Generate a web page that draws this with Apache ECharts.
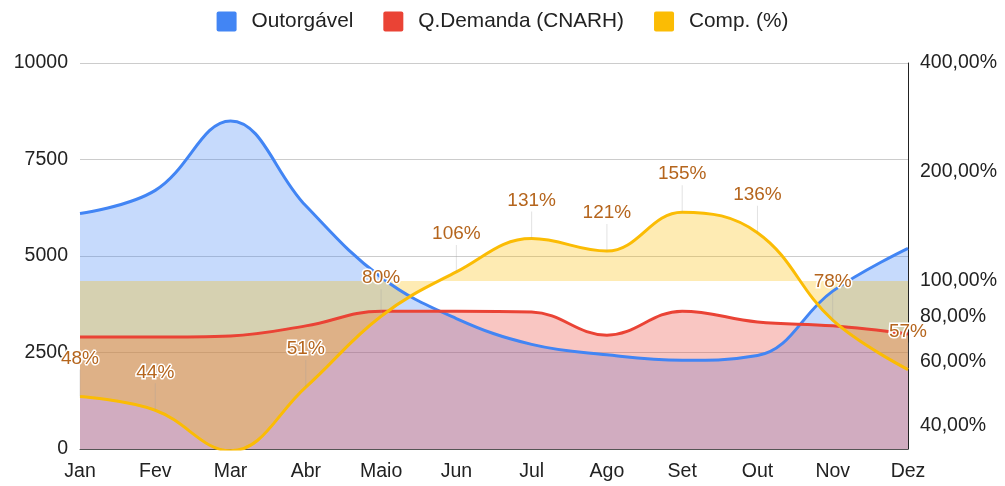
<!DOCTYPE html>
<html>
<head>
<meta charset="utf-8">
<script src="https://cdn.jsdelivr.net/npm/echarts@6/dist/echarts.min.js"></script>
<style>
html, body { margin: 0; padding: 0; background: #fff; }
#chart { width: 1005px; height: 486px; }
</style>
</head>
<body>
<div id="chart"></div>
<script>
const meses = ['Jan', 'Fev', 'Mar', 'Abr', 'Maio', 'Jun', 'Jul', 'Ago', 'Set', 'Out', 'Nov', 'Dez'];
const outorgavel = [6100, 6700, 8500, 6300, 4450, 3380, 2710, 2440, 2300, 2420, 4090, 5200];
const demanda = [2900, 2900, 2930, 3190, 3570, 3570, 3550, 2950, 3570, 3290, 3190, 2980];
const comp = [0.48, 0.44, 0.34, 0.51, 0.80, 1.06, 1.31, 1.21, 1.55, 1.36, 0.78, 0.57];
const ticksDireita = [0.4, 0.6, 0.8, 1, 2, 4];

const fonte = '"Liberation Sans", Arial, sans-serif';
// quadrado com cantos levemente arredondados (legenda)
const iconeQuadrado = 'path://M2,0H18A2,2,0,0,1,20,2V18A2,2,0,0,1,18,20H2A2,2,0,0,1,0,18V2A2,2,0,0,1,2,0Z';
var myChart = echarts.init(document.getElementById('chart'));
let option = {
	animation: false,
	textStyle: { fontFamily: fonte },
	legend: {
		top: 6,
		left: 'center',
		icon: iconeQuadrado,
		itemWidth: 20,
		itemHeight: 20,
		itemGap: 30,
		textStyle: { fontSize: 20.8, color: '#222', fontFamily: fonte, padding: [0, 0, 0, 10] },
		data: ['Outorgável', 'Q.Demanda (CNARH)', 'Comp. (%)']
	},
	grid: {
		left: 80,
		right: 97,
		top: 63,
		bottom: 37
	},
	xAxis: {
		type: 'category',
		data: meses,
		boundaryGap: false,
		axisLine: { show: true, lineStyle: { color: '#555', width: 1 } },
		axisTick: { show: false },
		axisLabel: { fontSize: 19.5, color: '#222', margin: 13 }
	},
	yAxis: [
		{
			type: 'value',
			min: 0,
			max: 10000,
			interval: 2500,
			axisLine: { show: false },
			axisTick: { show: false },
			axisLabel: {
				fontSize: 19.5,
				color: '#222',
				margin: 12,
				formatter: function (v) { return String(v); }
			},
			splitLine: { lineStyle: { color: '#ccc' } }
		},
		{
			type: 'log',
			logBase: 10,
			min: 0.344,
			max: 4,
			position: 'right',
			axisLine: { show: true, lineStyle: { color: '#222', width: 1 } },
			axisTick: { show: false },
			splitLine: { show: false },
			axisLabel: {
				fontSize: 19.5,
				color: '#222',
				margin: 12,
				customValues: ticksDireita,
				formatter: function (v) {
					return (v * 100).toFixed(2).replace('.', ',') + '%';
				}
			}
		}
	],
	series: [
		{
			name: 'Outorgável',
			type: 'line',
			smooth: 0.4,
			symbol: 'none',
			data: outorgavel,
			itemStyle: { color: '#4285F4' },
			lineStyle: { width: 3, color: '#4285F4' },
			areaStyle: { color: '#4285F4', opacity: 0.3 }
		},
		{
			name: 'Q.Demanda (CNARH)',
			type: 'line',
			smooth: 0.4,
			symbol: 'none',
			data: demanda,
			itemStyle: { color: '#EA4335' },
			lineStyle: { width: 3, color: '#EA4335' },
			areaStyle: { color: '#EA4335', opacity: 0.3 }
		},
		{
			name: 'Comp. (%)',
			type: 'line',
			yAxisIndex: 1,
			smooth: 0.4,
			symbol: 'circle',
			symbolSize: 0,
			showSymbol: true,
			data: comp,
			itemStyle: { color: '#FBBC04' },
			lineStyle: { width: 3, color: '#FBBC04' },
			areaStyle: { color: '#FBBC04', opacity: 0.3, origin: 1 },
			label: {
				show: true,
				position: 'top',
				distance: 0,
				align: 'center',
				formatter: function (p) {
					return '{v|' + Math.round(p.value * 100) + '%}\n{l|}';
				},
				rich: {
					v: {
						fontSize: 19,
						fontFamily: fonte,
						color: '#B5651D',
						textBorderColor: '#fff',
						textBorderWidth: 3,
						lineHeight: 22,
						align: 'center'
					},
					l: {
						width: 1,
						height: 27,
						backgroundColor: 'rgba(160,160,160,0.3)',
						align: 'center'
					}
				}
			},
			z: 3
		}
	]
};
myChart.setOption(option);
</script>
</body>
</html>
